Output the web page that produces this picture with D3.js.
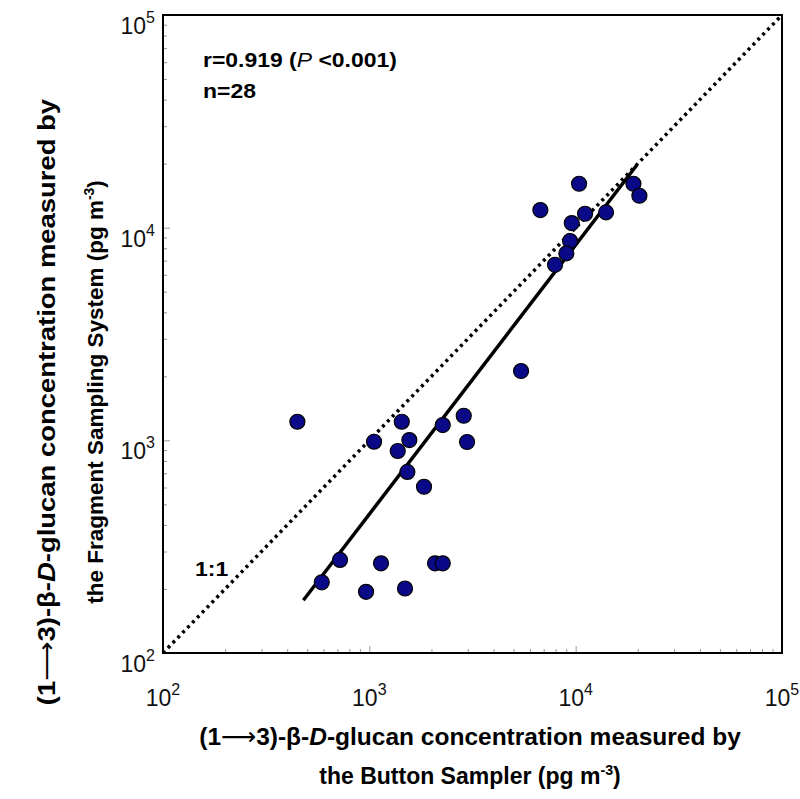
<!DOCTYPE html>
<html><head><meta charset="utf-8">
<script src="https://cdn.jsdelivr.net/npm/d3@7"></script>
<style>body{margin:0;background:#fff}svg{display:block}text{font-family:Arial,"Liberation Sans",sans-serif}</style>
</head><body>
<svg id="c" width="800" height="799"></svg>
<script>
// Data (pg m^-3)
const buttonSampler = [448,1436,1054,1563,1373,1529,1841,2269,2868,2976,721,588,1139,2082,2269,964,1489,
  10387,6744,11107,9574,14039,9393,9013,7946,19048,20361,5437];
const fragmentSampler = [1223,1223,985,1003,891,710,605,1180,1305,982,274,215,264,264,264,194,201,
  16085,12098,11625,10510,11801,8650,7571,6693,16085,14125,2118];
const fitX = [479, 19800];
const fitY = [177, 19700];
const identityLine = [100, 100000];
const majorTicks = [100, 1000, 10000, 100000];
const tickExponents = ["2","3","4","5"];
const statsLabel = ["r=0.919 (", "P", " <0.001)"];
const nLabel = "n=28";

const svg = d3.select("#c");
const L = 163, R = 782, T = 15, B = 653;
const x = d3.scaleLog().domain([100, 1e5]).range([L, R]);
const y = d3.scaleLog().domain([100, 1e5]).range([B, T]);

const minor = [];
for (let d = 100; d < 1e5; d *= 10) for (let k = 2; k <= 9; k++) minor.push(d * k);

function axisG(gen, tx, ty) {
  const g = svg.append("g").attr("transform", `translate(${tx},${ty})`).call(gen);
  g.select(".domain").remove();
  g.selectAll("line").attr("stroke", "#999").attr("stroke-width", 1);
  g.selectAll("text").remove();
  return g;
}
axisG(d3.axisBottom(x).tickValues(minor).tickSize(-4).tickFormat(""), 0, B);
axisG(d3.axisBottom(x).tickValues(majorTicks).tickSize(-7).tickFormat(""), 0, B);
axisG(d3.axisLeft(y).tickValues(minor).tickSize(-4).tickFormat(""), L, 0);
axisG(d3.axisLeft(y).tickValues(majorTicks).tickSize(-7).tickFormat(""), L, 0);

svg.append("rect").attr("x", L).attr("y", T).attr("width", R - L).attr("height", B - T)
  .attr("fill", "none").attr("stroke", "#000").attr("stroke-width", 2);

majorTicks.forEach((v, i) => {
  const t = svg.append("text").attr("x", x(v)).attr("y", B + 53).attr("text-anchor", "middle")
    .attr("font-size", 23).attr("fill", "#111");
  t.append("tspan").text("10");
  t.append("tspan").attr("font-size", 16).attr("dy", -11).text(tickExponents[i]);
  const u = svg.append("text").attr("x", L - 8).attr("y", y(v) + 19).attr("text-anchor", "end")
    .attr("font-size", 23).attr("fill", "#111");
  u.append("tspan").text("10");
  u.append("tspan").attr("font-size", 16).attr("dy", -11).text(tickExponents[i]);
});

const line = d3.line().x(d => x(d[0])).y(d => y(d[1]));
svg.append("path").datum(identityLine.map(v => [v, v])).attr("d", line)
  .attr("fill", "none").attr("stroke", "#000").attr("stroke-width", 3.5).attr("stroke-dasharray", "3,4");

svg.append("path").datum(fitX.map((v, i) => [v, fitY[i]])).attr("d", line)
  .attr("fill", "none").attr("stroke", "#000").attr("stroke-width", 3.5);

svg.append("g").selectAll("circle").data(buttonSampler.map((v, i) => [v, fragmentSampler[i]]))
  .join("circle").attr("cx", d => x(d[0])).attr("cy", d => y(d[1])).attr("r", 7.5)
  .attr("fill", "#0a0a88").attr("stroke", "#000").attr("stroke-width", 1.2);

const st = svg.append("text").attr("transform", "translate(203,67) scale(1.12,1)")
  .attr("font-size", 20.5).attr("font-weight", "bold");
st.append("tspan").text(statsLabel[0]);
st.append("tspan").attr("font-style", "italic").attr("font-weight", "normal").text(statsLabel[1]);
st.append("tspan").text(statsLabel[2]);
svg.append("text").attr("transform", "translate(203,98) scale(1.12,1)")
  .attr("font-size", 20.5).attr("font-weight", "bold").text(nLabel);
svg.append("text").attr("transform", "translate(195,576) scale(1.12,1)")
  .attr("font-size", 20.5).attr("font-weight", "bold").text("1:1");

function title(sel, parts) {
  parts.forEach(p => {
    const ts = sel.append("tspan").text(p.t);
    if (p.i) ts.attr("font-style", "italic");
    if (p.arrow) ts.attr("font-family", "DejaVu Sans").attr("font-weight", "normal");
    if (p.sup) ts.attr("font-size", "0.62em").attr("dy", -9);
    if (p.after) ts.attr("dy", 9);
  });
}
const line1 = [{t: "(1"}, {t: "\u27F6", arrow: true}, {t: "3)-\u03B2-"}, {t: "D", i: true}, {t: "-glucan concentration measured by"}];
const xl2 = [{t: "the Button Sampler (pg m"}, {t: "-3", sup: true}, {t: ")", after: true}];
const yl2 = [{t: "the Fragment Sampling System (pg m"}, {t: "-3", sup: true}, {t: ")", after: true}];

const cx = 470;
title(svg.append("text").attr("x", cx).attr("y", 745).attr("text-anchor", "middle")
  .attr("font-size", 24.5).attr("font-weight", "bold"), line1);
title(svg.append("text").attr("x", cx).attr("y", 784).attr("text-anchor", "middle")
  .attr("font-size", 23).attr("font-weight", "bold"), xl2);

title(svg.append("text").attr("transform", `translate(55,402) rotate(-90) scale(1.12,1)`).attr("text-anchor", "middle")
  .attr("font-size", 24.5).attr("font-weight", "bold"), line1);
title(svg.append("text").attr("transform", `translate(103,392) rotate(-90)`).attr("text-anchor", "middle")
  .attr("font-size", 22.5).attr("font-weight", "bold"), yl2);
</script>
</body></html>
